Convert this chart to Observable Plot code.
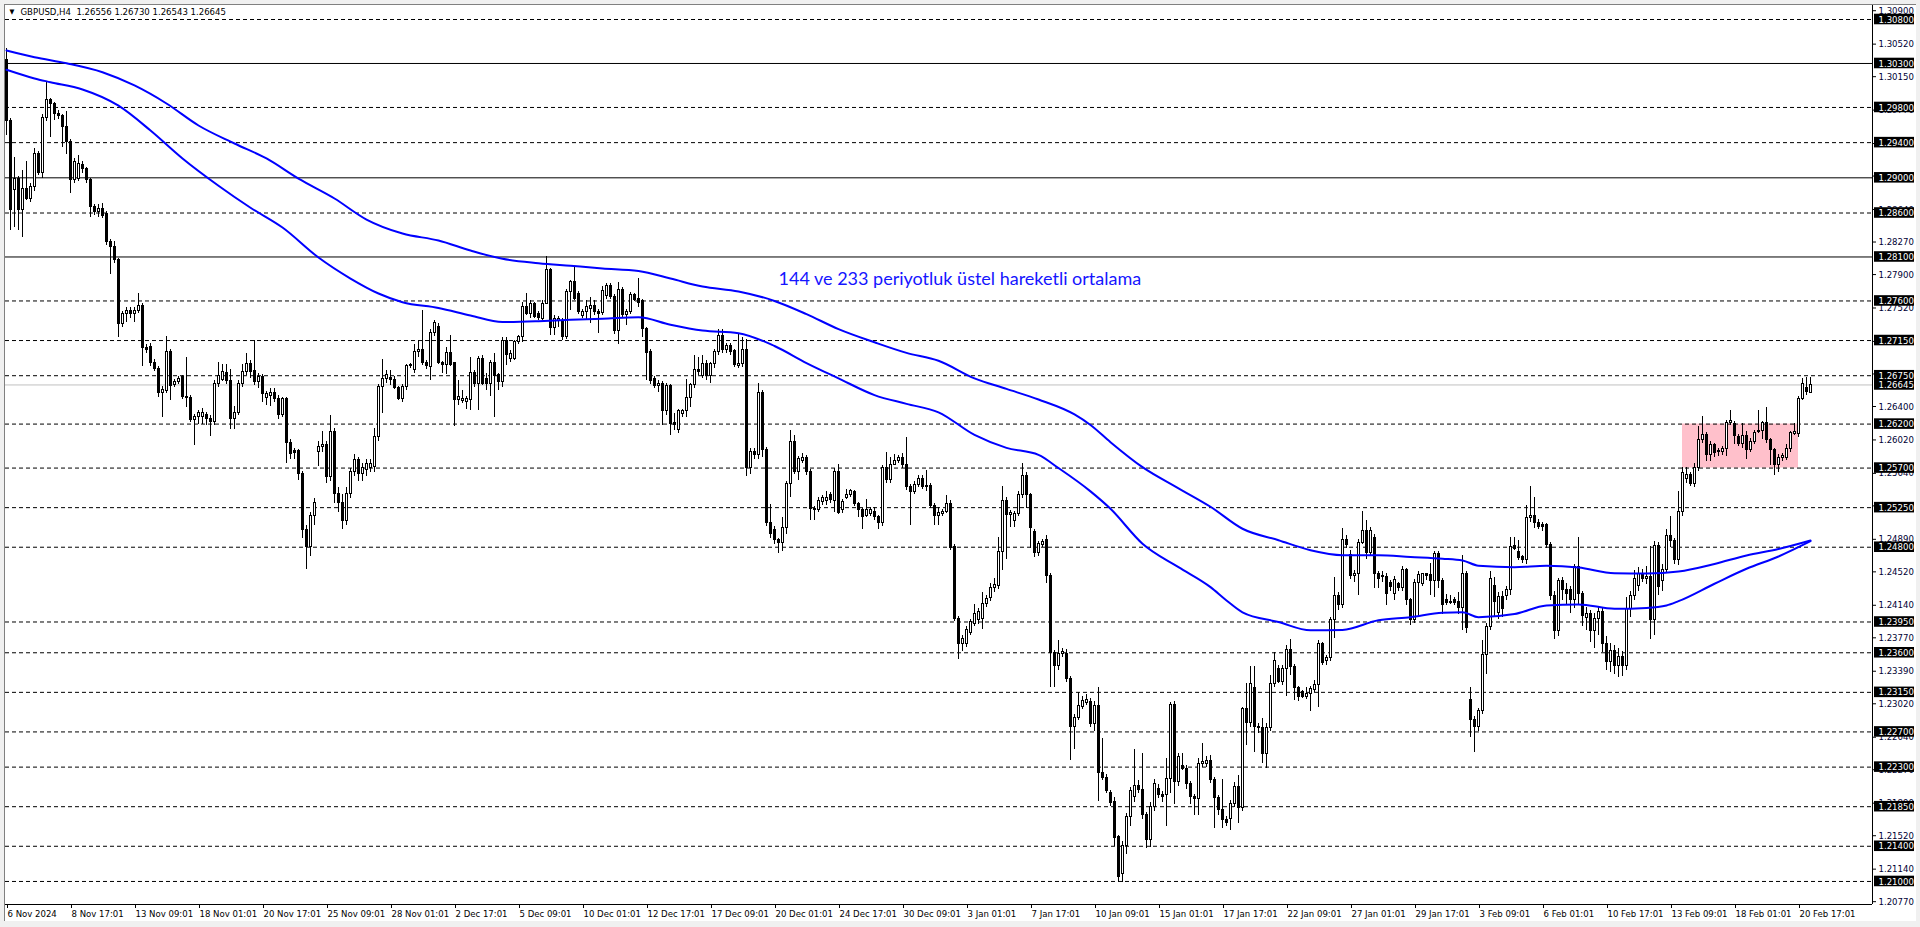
<!DOCTYPE html>
<html><head><meta charset="utf-8">
<script src="https://cdn.jsdelivr.net/npm/d3@7"></script>
<script src="https://cdn.jsdelivr.net/npm/@observablehq/plot@0.6"></script>
<style>
html,body{margin:0;padding:0;background:#f0f0f0;}
#wrap{position:relative;width:1920px;height:927px;overflow:hidden;}
#win{position:absolute;left:4px;top:4px;width:1912px;height:917px;background:#fff;border-left:1px solid #808080;border-top:1px solid #808080;box-sizing:border-box;}
#chart{position:absolute;left:0;top:0;}
</style></head><body>
<div id="wrap"><div id="win"></div><div id="chart"></div></div>
<script>
// ---- header ----
const symbolName = "GBPUSD,H4";
const headerOHLC = [1.26556, 1.26730, 1.26543, 1.26645];

// ---- H4 candles, rows [open, high, low, close] in 1/10000 price units ----
const novCandles = [
[13034,13047,12948,12965],[12965,12968,12840,12863],[12886,12923,12844,12899],[12899,12902,12840,12863],[12863,12908,12832,12887],[12887,12918,12874,12876],
[12876,12893,12872,12889],[12889,12933,12885,12927],[12927,12930,12903,12906],[12906,12972,12899,12968],[12968,13009,12964,12988],[12988,12990,12946,12984],
[12984,12986,12965,12973],[12973,12976,12966,12970],[12970,12972,12935,12958],[12958,12975,12927,12941],[12941,12943,12882,12897],[12897,12922,12893,12918],
[12899,12925,12896,12916],[12915,12918,12905,12910],[12910,12912,12893,12897],[12897,12899,12855,12867],[12867,12870,12857,12861],[12861,12870,12855,12865],
[12865,12871,12854,12857],[12859,12862,12823,12827],[12827,12830,12790,12821],[12821,12828,12803,12806],[12806,12808,12719,12734],[12734,12748,12730,12745],
[12745,12752,12736,12749],[12749,12752,12740,12745],[12745,12752,12735,12749],[12749,12768,12746,12754],[12754,12757,12685,12707],[12707,12710,12700,12704],
[12708,12712,12686,12690],[12690,12693,12680,12683],[12683,12686,12650,12655],[12655,12663,12628,12659],[12658,12720,12655,12702],[12702,12705,12647,12663],
[12665,12671,12662,12668],[12668,12674,12665,12671],[12673,12675,12648,12651],[12651,12696,12639,12650],[12650,12652,12622,12625],[12625,12631,12596,12628],
[12628,12636,12620,12633],[12628,12638,12620,12633],[12630,12633,12618,12626],[12626,12630,12606,12622],[12622,12669,12618,12666],[12666,12690,12662,12675],
[12670,12688,12668,12679],[12678,12688,12665,12669],[12669,12682,12614,12626],[12626,12640,12614,12633],[12633,12670,12630,12666],[12666,12688,12662,12679],
[12679,12700,12675,12688],[12688,12692,12672,12679],[12680,12715,12664,12668],[12668,12677,12660,12673],[12673,12676,12645,12654],[12650,12657,12641,12654],
[12652,12660,12640,12655],[12655,12660,12645,12649],[12649,12652,12625,12630],[12630,12650,12627,12648],[12648,12650,12575,12599],[12599,12602,12580,12586],
[12589,12592,12580,12587],[12589,12591,12556,12563],[12563,12566,12490,12500],[12500,12505,12455,12480],[12480,12520,12470,12515],[12515,12535,12505,12530],
[12588,12600,12572,12594],[12594,12612,12588,12596],[12596,12600,12552,12560],[12560,12630,12555,12611],[12611,12615,12530,12540],[12540,12548,12520,12530],
[12530,12540,12500,12510],[12510,12548,12505,12540],[12540,12570,12535,12565],[12565,12585,12560,12579],[12579,12582,12555,12563],[12563,12575,12555,12570],
[12568,12580,12560,12575],[12570,12580,12565,12575],[12571,12615,12565,12605],[12605,12665,12600,12662],[12662,12693,12632,12671],[12671,12681,12666,12676],
[12672,12681,12664,12670],[12670,12674,12659,12661],[12661,12663,12647,12649],[12649,12665,12645,12662],[12662,12688,12658,12686],[12686,12689,12683,12687],
[12681,12710,12678,12702],[12702,12715,12696,12704],[12704,12749,12687,12690],[12690,12692,12682,12686],[12685,12728,12670,12724],[12724,12738,12720,12735]
];
const decCandles = [
[12730,12734,12688,12689],[12689,12691,12677,12687],[12687,12707,12676,12701],[12701,12721,12685,12687],[12689,12690,12617,12647],[12647,12669,12641,12651],
[12646,12658,12643,12648],[12645,12651,12637,12648],[12647,12696,12635,12678],[12678,12681,12662,12666],[12666,12697,12635,12694],[12694,12698,12664,12666],
[12671,12677,12658,12666],[12666,12692,12651,12689],[12689,12700,12628,12675],[12676,12678,12658,12668],[12668,12719,12662,12715],[12715,12719,12687,12699],
[12694,12704,12690,12700],[12694,12715,12692,12713],[12713,12721,12711,12719],[12719,12758,12713,12753],[12753,12769,12744,12745],[12745,12760,12740,12757],
[12756,12758,12740,12742],[12745,12748,12738,12741],[12740,12760,12738,12757],[12757,12810,12756,12795],[12795,12797,12721,12729],[12729,12743,12721,12740],
[12737,12742,12730,12740],[12737,12740,12715,12719],[12719,12773,12716,12770],[12770,12783,12749,12781],[12781,12798,12760,12762],[12768,12771,12745,12747],
[12743,12750,12740,12747],[12747,12760,12738,12753],[12751,12764,12734,12754],[12754,12760,12743,12747],[12748,12750,12723,12745],[12746,12776,12743,12771],
[12766,12780,12762,12777],[12777,12780,12762,12764],[12765,12767,12722,12726],[12726,12781,12711,12773],[12773,12775,12741,12744],[12744,12750,12732,12747],
[12747,12770,12745,12767],[12767,12769,12759,12761],[12762,12786,12753,12758],[12760,12762,12719,12728],[12728,12730,12670,12701],[12702,12705,12665,12669],
[12671,12674,12660,12663],[12663,12669,12656,12666],[12666,12668,12618,12635],[12635,12666,12630,12663],[12663,12665,12607,12620],[12621,12632,12613,12619],
[12613,12637,12609,12635],[12632,12637,12628,12635],[12635,12671,12628,12650],[12650,12666,12639,12664],[12664,12698,12660,12682],[12682,12696,12675,12679],
[12675,12698,12672,12688],[12688,12692,12670,12675],[12675,12690,12666,12688],[12688,12705,12683,12702],[12702,12727,12698,12720],[12720,12727,12700,12704],
[12704,12712,12700,12709],[12709,12712,12698,12702],[12703,12705,12684,12687],[12686,12723,12683,12688],[12688,12719,12684,12704],[12704,12716,12560,12570],
[12570,12592,12563,12588],[12588,12592,12580,12585],[12585,12666,12580,12655],[12655,12658,12582,12590],[12590,12593,12503,12507],[12507,12529,12490,12495],
[12500,12503,12483,12488],[12488,12490,12473,12485],[12485,12514,12475,12502],[12502,12555,12495,12552],[12552,12613,12536,12600],[12600,12607,12563,12565],
[12565,12583,12556,12580],[12578,12587,12575,12581],[12581,12584,12562,12565],[12565,12568,12510,12523],[12524,12526,12510,12522],[12522,12536,12519,12533],
[12531,12539,12528,12536],[12533,12543,12527,12536],[12539,12542,12530,12534],[12532,12569,12519,12565],[12565,12574,12517,12519],[12522,12534,12518,12531],
[12536,12546,12534,12539],[12539,12546,12536,12544],[12543,12545,12526,12529],[12529,12531,12514,12522],[12522,12524,12500,12514],[12515,12534,12514,12522],
[12518,12525,12515,12522],[12520,12525,12510,12514],[12514,12516,12500,12507],[12507,12573,12503,12570],[12570,12588,12552,12556],[12556,12582,12552,12574],
[12574,12585,12573,12578],[12578,12584,12575,12581],[12581,12587,12570,12573],[12573,12605,12545,12548],[12549,12551,12505,12543],[12543,12555,12540,12551],
[12551,12562,12548,12558],[12558,12561,12546,12549],[12550,12567,12543,12548],[12550,12553,12524,12527],[12527,12530,12505,12515],[12515,12525,12505,12519]
];
const janCandles = [
[12518,12523,12515,12520],[12520,12539,12518,12529],[12529,12533,12476,12479],[12480,12483,12395,12398],[12398,12401,12352,12370],[12370,12380,12361,12376],
[12370,12390,12366,12386],[12383,12398,12380,12395],[12393,12415,12390,12404],[12397,12410,12392,12406],[12398,12429,12386,12415],[12415,12425,12412,12421],
[12422,12439,12418,12434],[12434,12444,12429,12437],[12436,12491,12432,12475],[12475,12549,12454,12533],[12533,12536,12466,12517],[12517,12522,12502,12519],
[12510,12521,12502,12518],[12518,12543,12515,12539],[12539,12575,12535,12561],[12561,12565,12524,12539],[12539,12541,12478,12502],[12497,12500,12468,12473],
[12473,12487,12469,12484],[12483,12489,12480,12486],[12488,12493,12439,12447],[12447,12450,12320,12360],[12360,12363,12320,12345],[12345,12374,12340,12359],
[12359,12365,12355,12361],[12359,12364,12326,12330],[12330,12333,12237,12276],[12276,12290,12250,12286],[12286,12315,12283,12300],[12298,12310,12295,12305],
[12303,12312,12300,12306],[12304,12308,12275,12279],[12279,12305,12270,12300],[12300,12320,12191,12223],[12223,12262,12215,12218],[12218,12222,12200,12203],
[12201,12203,12185,12189],[12190,12195,12140,12149],[12150,12152,12099,12105],[12109,12145,12099,12140],[12140,12177,12131,12173],[12173,12207,12162,12203],
[12196,12250,12190,12209],[12209,12215,12200,12204],[12204,12245,12170,12175],[12175,12178,12137,12147],[12147,12190,12139,12185],[12185,12216,12180,12211],
[12205,12210,12194,12198],[12198,12202,12190,12196],[12198,12240,12162,12217],[12217,12304,12200,12301],[12301,12305,12188,12213],[12213,12245,12208,12241],
[12231,12245,12226,12228],[12228,12232,12205,12211],[12211,12214,12188,12196],[12196,12199,12175,12194],[12194,12240,12175,12234],[12234,12257,12230,12236],
[12234,12242,12230,12237],[12237,12243,12211,12215],[12215,12218,12160,12195],[12195,12198,12175,12181],[12181,12216,12160,12170],[12170,12174,12162,12166],
[12171,12192,12158,12188],[12188,12212,12184,12207],[12207,12220,12166,12184],[12184,12298,12179,12296],[12296,12325,12255,12280],[12280,12344,12275,12324],
[12320,12344,12247,12276],[12276,12280,12268,12274],[12274,12285,12234,12245],[12245,12280,12228,12275],[12275,12334,12270,12325],[12325,12360,12321,12351],
[12342,12345,12325,12327],[12327,12346,12323,12342],[12342,12368,12310,12363],[12363,12375,12334,12344],[12344,12347,12306,12320],[12320,12322,12305,12310],
[12315,12317,12308,12310],[12310,12321,12307,12313],[12313,12322,12293,12319],[12318,12329,12315,12323],[12323,12374,12298,12370],[12370,12372,12345,12348],
[12351,12357,12346,12354],[12354,12400,12350,12397],[12397,12446,12376,12425],[12425,12428,12408,12414],[12414,12501,12410,12488],[12488,12493,12478,12482],
[12471,12476,12443,12447],[12447,12453,12440,12450],[12450,12489,12425,12485],[12485,12521,12483,12498],[12498,12510,12466,12473],[12473,12502,12470,12498],
[12490,12495,12433,12450],[12450,12452,12433,12444],[12446,12452,12440,12447],[12446,12450,12414,12427],[12439,12442,12430,12435],[12427,12447,12420,12443],
[12438,12440,12430,12434],[12434,12458,12430,12454],[12454,12456,12414,12420],[12420,12422,12391,12397],[12397,12443,12393,12439],[12439,12452,12400,12448],
[12438,12450,12435,12449],[12449,12450,12442,12447],[12448,12461,12425,12442],[12442,12475,12423,12472],[12472,12475,12433,12442],[12442,12445,12404,12414],
[12420,12426,12414,12417],[12418,12425,12415,12417],[12420,12423,12414,12417],[12418,12429,12404,12411],[12411,12471,12385,12449],[12449,12452,12382,12388]
];
const febCandles = [
[12306,12321,12264,12283],[12284,12287,12247,12276],[12276,12297,12270,12294],[12294,12374,12290,12357],[12357,12393,12335,12389],[12389,12452,12385,12444],
[12436,12446,12400,12418],[12405,12428,12398,12423],[12423,12430,12400,12410],[12424,12435,12420,12431],[12431,12491,12425,12480],[12481,12491,12476,12478],
[12475,12488,12465,12468],[12469,12471,12462,12465],[12465,12527,12460,12513],[12513,12549,12508,12515],[12515,12536,12501,12507],[12507,12512,12500,12503],
[12505,12508,12498,12503],[12505,12507,12478,12482],[12482,12485,12420,12425],[12425,12430,12375,12385],[12385,12444,12378,12442],[12442,12446,12420,12431],
[12431,12439,12415,12427],[12431,12435,12405,12420],[12420,12460,12410,12457],[12457,12491,12415,12427],[12427,12430,12390,12402],[12400,12412,12385,12404],
[12404,12408,12372,12385],[12385,12405,12365,12398],[12398,12412,12380,12406],[12406,12412,12360,12370],[12370,12378,12340,12350],[12350,12370,12338,12362],
[12362,12368,12335,12345],[12345,12365,12332,12355],[12355,12362,12333,12345],[12345,12423,12340,12410],[12410,12430,12400,12424],[12424,12454,12420,12444],
[12436,12457,12430,12450],[12450,12455,12440,12444],[12444,12458,12438,12446],[12446,12481,12375,12397],[12397,12486,12380,12481],[12481,12485,12425,12435],
[12442,12460,12430,12454],[12454,12500,12450,12493],[12493,12515,12480,12487],[12487,12490,12460,12465],[12465,12543,12459,12520],[12520,12571,12515,12564],
[12558,12571,12552,12562],[12562,12565,12549,12552],[12552,12575,12548,12570],[12570,12617,12566,12602],[12602,12629,12598,12608],[12608,12610,12578,12585],
[12585,12600,12577,12596],[12596,12598,12582,12587],[12589,12592,12583,12588],[12588,12594,12584,12592],[12592,12624,12583,12621],[12621,12635,12618,12623],
[12620,12623,12597,12606],[12605,12608,12594,12597],[12597,12621,12592,12606],[12606,12612,12580,12591],[12591,12604,12588,12600],[12600,12613,12597,12610],
[12611,12636,12609,12612],[12612,12623,12602,12621],[12621,12639,12598,12602],[12602,12604,12573,12590],[12590,12592,12562,12573],[12573,12585,12565,12582],
[12582,12586,12578,12584],[12582,12597,12579,12592],[12592,12612,12588,12610],[12609,12621,12607,12611],[12609,12651,12605,12649],[12649,12672,12647,12666],
[12661,12673,12652,12656],[12655.6,12673,12654.3,12664.5]
];

// ---- moving averages, [candle index, price] ----
const ema233 = [[0,1.30448],[7,1.30371],[15,1.30303],[24,1.30201],[32,1.30050],[40,1.29845],[48,1.29595],[57,1.29390],[65,1.29220],[73,1.28990],[82,1.28765],[90,1.28526],[99,1.28367],[108,1.28287],[116,1.28174],[124,1.28080],[133,1.28030],[141,1.28000],[149,1.27970],[158,1.27940],[166,1.27855],[174,1.27764],[183,1.27708],[192,1.27600],[200,1.27450],[208,1.27280],[217,1.27130],[225,1.27010],[233,1.26920],[242,1.26720],[250,1.26600],[258,1.26480],[267,1.26310],[271,1.26190],[276,1.25994],[284,1.25710],[293,1.25470],[301,1.25260],[309,1.25010],[318,1.24880],[326,1.24766],[334,1.24710],[343,1.24710],[351,1.24690],[359,1.24670],[364,1.24650],[368,1.24590],[377,1.24573],[385,1.24590],[393,1.24570],[402,1.24505],[410,1.24500],[418,1.24524],[427,1.24610],[435,1.24706],[443,1.24780],[451,1.24877]];
const ema144 = [[0,1.30228],[7,1.30130],[11,1.30087],[19,1.30004],[28,1.29820],[36,1.29538],[44,1.29220],[53,1.28910],[61,1.28660],[69,1.28435],[78,1.28094],[86,1.27855],[93,1.27685],[99,1.27586],[108,1.27520],[116,1.27435],[124,1.27360],[133,1.27370],[141,1.27386],[149,1.27397],[158,1.27415],[166,1.27330],[174,1.27264],[183,1.27234],[192,1.27088],[200,1.26894],[208,1.26720],[217,1.26530],[225,1.26430],[233,1.26334],[242,1.26077],[250,1.25930],[258,1.25850],[263,1.25700],[271,1.25435],[276,1.25237],[284,1.24840],[293,1.24573],[301,1.24346],[305,1.24195],[309,1.24060],[318,1.23950],[326,1.23855],[334,1.23860],[343,1.23970],[351,1.24005],[359,1.24055],[364,1.24060],[368,1.24005],[377,1.24040],[385,1.24138],[393,1.24150],[402,1.24100],[410,1.24110],[415,1.24138],[418,1.24187],[427,1.24385],[435,1.24555],[443,1.24695],[451,1.24869]];

// ---- horizontal levels ----
const dashedLevels = [1.3080,1.2980,1.2940,1.2860,1.2760,1.2715,1.2675,1.2620,1.2570,1.2525,1.2480,1.2395,1.2360,1.2315,1.2270,1.2230,1.2185,1.2140,1.2100];
const solidLevels = [1.3030,1.2900,1.2810];
const bidPrice = 1.26645;

// ---- rectangle zone: candle range and price range ----
const zoneCandles = [419, 448];
const zonePrices = [1.2570, 1.2620];

// ---- annotation ----
const noteText = "144 ve 233 periyotluk üstel hareketli ortalama";
const noteAnchor = [193, 1.27844];

// ---- axis ticks ----
const priceTicks = [1.3090,1.3052,1.3015,1.2977,1.2939,1.2902,1.2864,1.2827,1.2790,1.2752,1.2714,1.2677,1.2640,1.2602,1.2564,1.2527,1.2489,1.2452,1.2414,1.2377,1.2339,1.2302,1.2264,1.2227,1.2189,1.2152,1.2114,1.2077];
const timeLabels = ["6 Nov 2024","8 Nov 17:01","13 Nov 09:01","18 Nov 01:01","20 Nov 17:01","25 Nov 09:01","28 Nov 01:01","2 Dec 17:01","5 Dec 09:01","10 Dec 01:01","12 Dec 17:01","17 Dec 09:01","20 Dec 01:01","24 Dec 17:01","30 Dec 09:01","3 Jan 01:01","7 Jan 17:01","10 Jan 09:01","15 Jan 01:01","17 Jan 17:01","22 Jan 09:01","27 Jan 01:01","29 Jan 17:01","3 Feb 09:01","6 Feb 01:01","10 Feb 17:01","13 Feb 09:01","18 Feb 01:01","20 Feb 17:01"];
const labelEvery = 16;

// ---- build ----
const candles = [...novCandles, ...decCandles, ...janCandles, ...febCandles]
  .map((r, i) => ({i, o: r[0] / 1e4, h: r[1] / 1e4, l: r[2] / 1e4, c: r[3] / 1e4}));
const bodyTop = d => Math.abs(d.c - d.o) < 0.00009 ? d.o + 0.00009 : d.c;
const bulls = candles.filter(d => d.c >= d.o);
const bears = candles.filter(d => d.c < d.o);
const tickIdx = timeLabels.map((_, k) => k * labelEvery);
const allLevels = [...dashedLevels, ...solidLevels, bidPrice];
const fmt5 = d => d.toFixed(5);
const FONT = "'DejaVu Sans Condensed','DejaVu Sans',sans-serif";

const xDomain = [-0.25, 466.5];
const yDomain = [1.20738, 1.309592];

const plot = Plot.plot({
  width: 1920, height: 927,
  marginTop: 5, marginLeft: 5, marginRight: 48, marginBottom: 23,
  x: {domain: xDomain, axis: null, label: null},
  y: {domain: yDomain, axis: null, label: null},
  style: {background: "transparent", fontFamily: FONT, fontSize: "9.5px", color: "black", overflow: "visible", fontStretch: "condensed"},
  marks: [
    Plot.rect([0], {x1: () => zoneCandles[0], x2: () => zoneCandles[1], y1: () => zonePrices[0], y2: () => zonePrices[1], fill: "#ffc0cb"}),
    Plot.ruleY(dashedLevels, {stroke: "black", strokeDasharray: "4,3"}),
    Plot.ruleY(solidLevels, {stroke: "black"}),
    Plot.ruleY([bidPrice], {stroke: "#c0c0c0"}),
    Plot.ruleX(candles, {x: "i", y1: "l", y2: "h", stroke: "black", shapeRendering: "crispEdges"}),
    Plot.rect(bulls, {x1: d => d.i - 0.25, x2: d => d.i + 0.25, y1: "o", y2: bodyTop, fill: "white", stroke: "black", shapeRendering: "crispEdges"}),
    Plot.rect(bears, {x1: d => d.i - 0.25, x2: d => d.i + 0.25, y1: "o", y2: bodyTop, fill: "black", stroke: "black", shapeRendering: "crispEdges"}),
    Plot.line(ema233, {x: d => d[0], y: d => d[1], stroke: "#0000ff", strokeWidth: 2, curve: "monotone-x"}),
    Plot.line(ema144, {x: d => d[0], y: d => d[1], stroke: "#0000ff", strokeWidth: 2, curve: "monotone-x"}),
    Plot.text([noteText], {x: () => noteAnchor[0], y: () => noteAnchor[1], text: d => d, textAnchor: "start", fill: "#1515ff", fontSize: 18, fontFamily: "Lato, 'Open Sans', sans-serif", fontStretch: "normal"}),
    Plot.ruleX([xDomain[1]], {stroke: "black"}),
    Plot.ruleY([yDomain[0]], {stroke: "black"}),
    Plot.axisY({anchor: "right", label: null, ticks: priceTicks, tickFormat: fmt5, tickSize: 3, tickPadding: 3, fill: "#000033"}),
    Plot.rect(allLevels, {y1: d => d - 0.00060, y2: d => d + 0.00060, fill: "black", insetLeft: 1869, insetRight: -42}),
    Plot.text(allLevels, {y: d => d, text: fmt5, frameAnchor: "right", dx: 6, textAnchor: "start", fill: "white"}),
    Plot.axisX({anchor: "bottom", label: null, ticks: tickIdx, tickFormat: d => timeLabels[Math.round(d / labelEvery)], tickSize: 4, tickPadding: 2, textAnchor: "start", dx: 1}),
    Plot.text(["\u25BC"], {frameAnchor: "top-left", dx: 4, dy: 4, fontSize: 7}),
    Plot.text([symbolName + "\u00a0\u00a0" + headerOHLC.map(fmt5).join(" ")], {frameAnchor: "top-left", dx: 15, dy: 3})
  ]
});
document.getElementById("chart").appendChild(plot);
</script>
</body></html>
